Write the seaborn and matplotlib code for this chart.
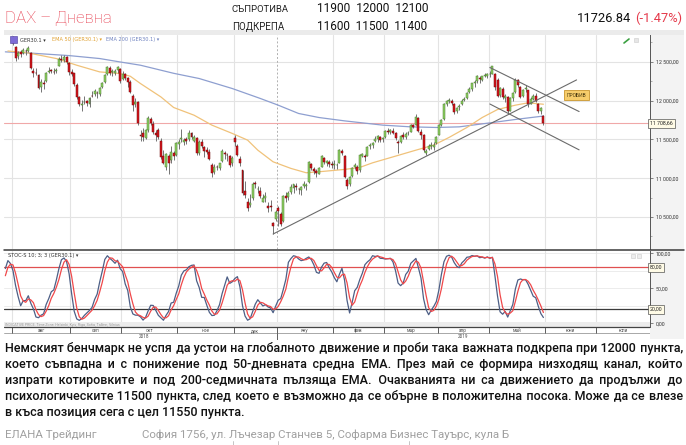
import numpy as np
import pandas as pd
import matplotlib
matplotlib.use("Agg")
import matplotlib.pyplot as plt
from matplotlib.patches import Rectangle
import seaborn as sns

W, H = 686, 445

# ---------------- data ----------------
closed_days = ["2018-10-03", "2018-12-24", "2018-12-25", "2018-12-26", "2018-12-31",
               "2019-01-01", "2019-04-19", "2019-04-22", "2019-05-01"]
first_day, last_day, first_shown = "2018-07-05", "2019-05-31", "2018-08-01"

open_ = [
    12350, 12440, 12560, 12620, 12500, 12440, 12510, 12560, 12530, 12600, 12740, 12690, 12530, 12620, 12680, 12640, 12800, 12840, 12780,
    12806, 12690, 12570, 12620, 12610, 12640, 12640, 12610, 12380, 12360, 12330, 12170, 12230, 12250, 12370, 12390, 12370, 12380, 12450, 12540, 12520, 12560, 12480,
    12370, 12350, 12200, 12040, 11940, 11980, 11990, 11960, 12060, 12080, 12100, 12090, 12170, 12240, 12340, 12420, 12370, 12360, 12390, 12410,
    12280, 12340, 12290, 12240, 12060, 11960, 11980, 11560, 11580, 11520, 11620, 11760, 11700, 11580, 11620, 11480, 11290, 11150, 11280, 11230, 11320, 11300,
    11440, 11500, 11470, 11500, 11500, 11580, 11480, 11520, 11330, 11470, 11400, 11360, 11340, 11170, 11080, 11140, 11130, 11220, 11330, 11300, 11290, 11190,
    11520, 11420, 11250, 11100, 10830, 10700, 10660, 10740, 10940, 10860, 10830, 10700, 10750, 10640, 10640, 10430, 10480,
    10620, 10540, 10450, 10770, 10760, 10820, 10870, 10900, 10860, 10850, 10900, 10900, 10950, 11180, 11120, 11090, 11060, 11150, 11260, 11200, 11210, 11180,
    11170, 11170, 11200, 11350, 11290, 10980, 10920, 11030, 11140, 11150, 11100, 11290, 11290, 11290, 11410, 11430, 11480, 11500, 11530, 11500,
    11530, 11610, 11590, 11610, 11580, 11460, 11460, 11550, 11530, 11580, 11600, 11680, 11680, 11780, 11590, 11560, 11330, 11380, 11420, 11400, 11450,
    11560, 11690, 11760, 11950, 11990, 12000, 11950, 11870, 11910, 11950, 12010, 12030, 12110, 12150, 12230, 12250, 12290, 12270, 12320, 12310,
    12340, 12345, 12340, 12270, 12070, 12150, 12030, 12050, 11870, 12030, 12110, 12260, 12170, 12060, 12150, 12130, 11960, 12020, 12060, 11960, 11860, 11800,
]
high = [
    12480, 12520, 12630, 12660, 12520, 12510, 12560, 12600, 12580, 12780, 12760, 12710, 12580, 12720, 12700, 12830, 12880, 12850, 12830,
    12834, 12700, 12640, 12650, 12680, 12660, 12700, 12620, 12420, 12420, 12340, 12280, 12260, 12370, 12430, 12410, 12420, 12420, 12560, 12580, 12580, 12570, 12500,
    12400, 12360, 12220, 12060, 12010, 12060, 12010, 12050, 12120, 12150, 12120, 12170, 12240, 12340, 12440, 12440, 12400, 12410, 12450, 12420,
    12380, 12360, 12300, 12260, 12080, 12030, 11990, 11620, 11650, 11630, 11800, 11790, 11730, 11620, 11650, 11520, 11360, 11320, 11310, 11420, 11350, 11460,
    11500, 11630, 11520, 11530, 11620, 11600, 11560, 11530, 11490, 11510, 11420, 11400, 11380, 11190, 11180, 11170, 11200, 11370, 11350, 11320, 11300, 11290,
    11550, 11440, 11290, 11110, 10960, 10740, 10800, 10950, 10970, 10900, 10890, 10800, 10820, 10690, 10720, 10440, 10590,
    10640, 10570, 10780, 10820, 10830, 10920, 10930, 10940, 10880, 10900, 10960, 10940, 11220, 11200, 11140, 11120, 11140, 11300, 11270, 11240, 11240, 11220,
    11240, 11200, 11380, 11380, 11300, 11000, 11030, 11140, 11190, 11170, 11310, 11330, 11310, 11420, 11450, 11470, 11540, 11550, 11540, 11530,
    11620, 11640, 11630, 11640, 11600, 11490, 11560, 11600, 11590, 11610, 11700, 11700, 11820, 11790, 11630, 11570, 11370, 11440, 11470, 11460, 11540,
    11700, 11760, 11970, 12010, 12030, 12020, 11970, 11920, 11960, 12020, 12050, 12110, 12170, 12230, 12260, 12330, 12310, 12320, 12360, 12360,
    12380, 12450, 12350, 12290, 12180, 12170, 12080, 12060, 12040, 12110, 12290, 12280, 12190, 12150, 12200, 12140, 12050, 12080, 12100, 11970, 11920, 11810,
]
low = [
    12340, 12400, 12540, 12580, 12400, 12410, 12480, 12500, 12480, 12590, 12650, 12540, 12480, 12600, 12560, 12630, 12780, 12760, 12740,
    12720, 12505, 12530, 12560, 12600, 12590, 12620, 12400, 12300, 12330, 12150, 12110, 12150, 12240, 12360, 12350, 12340, 12360, 12440, 12500, 12490, 12470, 12330,
    12320, 12190, 12020, 11930, 11865, 11950, 11930, 11910, 12040, 12060, 12030, 12060, 12160, 12230, 12330, 12330, 12320, 12330, 12350, 12230,
    12260, 12260, 12180, 12100, 11870, 11920, 11690, 11480, 11480, 11500, 11600, 11680, 11570, 11480, 11500, 11250, 11180, 11110, 11050, 11200, 11230, 11290,
    11380, 11470, 11430, 11440, 11480, 11500, 11460, 11300, 11300, 11390, 11270, 11310, 11230, 11010, 11060, 11110, 11100, 11210, 11250, 11220, 11150, 11160,
    11420, 11280, 11160, 10780, 10750, 10580, 10630, 10720, 10880, 10810, 10740, 10690, 10700, 10560, 10580, 10279, 10450,
    10390, 10380, 10440, 10700, 10720, 10800, 10810, 10850, 10800, 10790, 10870, 10850, 10940, 11110, 11060, 11020, 11050, 11140, 11180, 11160, 11150, 11130,
    11120, 11120, 11190, 11300, 11000, 10860, 10900, 11020, 11120, 11050, 11080, 11270, 11220, 11280, 11380, 11390, 11470, 11460, 11460, 11470,
    11520, 11570, 11570, 11570, 11490, 11330, 11450, 11510, 11500, 11550, 11590, 11640, 11680, 11590, 11500, 11340, 11300, 11360, 11380, 11360, 11440,
    11550, 11670, 11750, 11930, 11970, 11940, 11830, 11840, 11880, 11940, 11990, 12020, 12100, 12120, 12180, 12230, 12230, 12250, 12300, 12290,
    12300, 12340, 12140, 12040, 12050, 12020, 11980, 11830, 11860, 12000, 12100, 12180, 12030, 12050, 12110, 11920, 11950, 12010, 11980, 11840, 11830, 11680,
]
close = [
    12465, 12497, 12610, 12609, 12417, 12492, 12541, 12540, 12561, 12765, 12686, 12561, 12548, 12690, 12579, 12809, 12860, 12799, 12806,
    12737, 12546, 12616, 12598, 12648, 12634, 12676, 12424, 12358, 12358, 12162, 12237, 12210, 12358, 12384, 12385, 12366, 12394, 12538, 12527, 12562, 12494, 12364,
    12346, 12210, 12040, 11955, 11960, 11986, 11970, 12032, 12055, 12124, 12096, 12157, 12219, 12326, 12430, 12350, 12374, 12385, 12435, 12247,
    12346, 12287, 12244, 12111, 11947, 11977, 11712, 11539, 11524, 11614, 11777, 11715, 11589, 11553, 11524, 11274, 11191, 11307, 11201, 11336, 11287, 11447,
    11468, 11519, 11494, 11484, 11579, 11527, 11529, 11325, 11472, 11412, 11353, 11341, 11244, 11066, 11139, 11138, 11192, 11354, 11309, 11298, 11170, 11257,
    11465, 11300, 11200, 10811, 10788, 10622, 10680, 10931, 10924, 10865, 10772, 10740, 10766, 10611, 10634, 10382, 10559,
    10580, 10416, 10767, 10747, 10804, 10893, 10921, 10888, 10856, 10892, 10931, 10919, 11205, 11136, 11090, 11071, 11130, 11282, 11210, 11218, 11181, 11173,
    11181, 11176, 11368, 11325, 11022, 10906, 11014, 11126, 11167, 11089, 11299, 11309, 11278, 11401, 11423, 11457, 11505, 11540, 11487, 11515,
    11602, 11593, 11620, 11588, 11518, 11458, 11543, 11524, 11572, 11587, 11686, 11657, 11788, 11603, 11550, 11364, 11346, 11419, 11428, 11429, 11526,
    11682, 11754, 11954, 11988, 12010, 11963, 11850, 11905, 11935, 11999, 12020, 12101, 12153, 12222, 12236, 12313, 12282, 12315, 12328, 12344,
    12345, 12440, 12170, 12060, 12160, 12040, 12060, 11860, 12030, 12100, 12270, 12200, 12050, 12140, 12160, 11960, 12020, 12060, 12000, 11860, 11900, 11705,
]

ema50_dates = ["2018-07-30", "2018-08-09", "2018-08-24", "2018-09-05", "2018-09-18", "2018-09-28", "2018-10-05",
               "2018-10-11", "2018-10-23", "2018-10-30", "2018-11-09", "2018-11-20", "2018-11-30", "2018-12-10",
               "2018-12-14", "2018-12-27", "2019-01-09", "2019-01-17", "2019-01-24", "2019-02-07", "2019-02-15",
               "2019-02-22", "2019-03-07", "2019-03-19", "2019-03-28", "2019-04-05", "2019-04-16", "2019-04-26",
               "2019-05-07", "2019-05-16", "2019-05-23", "2019-05-31"]
ema50_vals = [12637, 12612, 12540, 12454, 12368, 12347, 12312, 12218, 12046, 11910, 11811, 11683, 11576, 11490,
              11361, 11211, 11126, 11070, 11083, 11113, 11139, 11198, 11284, 11361, 11426, 11525, 11653, 11781,
              11884, 11940, 11970, 11952]
ema200_dates = ["2018-07-27", "2018-08-09", "2018-08-21", "2018-08-31", "2018-09-18", "2018-09-28", "2018-10-11",
                "2018-10-22", "2018-10-30", "2018-11-13", "2018-11-30", "2018-12-17", "2019-01-02", "2019-01-14",
                "2019-01-24", "2019-02-07", "2019-02-28", "2019-03-15", "2019-03-29", "2019-04-11", "2019-05-02",
                "2019-05-16", "2019-05-31"]
ema200_vals = [12626, 12612, 12595, 12578, 12540, 12496, 12454, 12398, 12350, 12283, 12154, 12026, 11940, 11833,
               11781, 11738, 11683, 11661, 11653, 11661, 11712, 11756, 11800]

trend_up = (["2018-12-27", "2019-06-19"], [10282, 12265])
channel_top = (["2019-05-02", "2019-06-20"], [12425, 11858])
channel_bottom = (["2019-05-02", "2019-06-20"], [11955, 11365])
breakout_label = ("2019-06-19", 12068, "ПРОБИВ")

month_labels = ["авг", "сеп", "окт", "ное", "дек", "яну", "фев", "мар", "апр", "май", "юни", "юли"]
month_starts = ["2018-08-01", "2018-09-01", "2018-10-01", "2018-11-01", "2018-12-01", "2019-01-01",
                "2019-02-01", "2019-03-01", "2019-04-01", "2019-05-01", "2019-06-01", "2019-07-01"]
year_labels = ["2018", "2019"]
price_ticks = [10500, 11000, 11500, 12000, 12500]
stoch_ticks = [0, 50, 100]
stoch_minor = [25, 75]
stoch_levels = [80, 20]
last_price_line = 11705
last_price_text = "11 708,66"

title = "DAX – Дневна"
resistance = [11900, 12000, 12100]
support = [11600, 11500, 11400]
last_close = "11726.84"
change = "(-1.47%)"
paragraph = [
    "Немският бенчмарк не успя да устои на глобалното движение и проби така важната подкрепа при 12000 пункта,",
    "което съвпадна и с понижение под 50-дневната средна ЕМА. През май се формира низходящ канал, който",
    "изпрати котировките и под 200-седмичната пълзяща ЕМА. Очакванията ни са движението да продължи до",
    "психологическите 11500 пункта, след което е възможно да се обърне в положителна посока. Може да се влезе",
    "в къса позиция сега с цел 11550 пункта.",
]
footer_left = "ЕЛАНА Трейдинг"
footer_right = "София 1756, ул. Лъчезар Станчев 5, Софарма Бизнес Тауърс, кула Б"

# ---------------- frame ----------------
trade_days = pd.bdate_range(first_day, last_day).difference(pd.to_datetime(closed_days))
assert len(trade_days) == len(open_) == len(high) == len(low) == len(close)
ext_days = pd.bdate_range(first_day, "2019-08-30").difference(pd.to_datetime(closed_days))
n_warm = int((ext_days < pd.Timestamp(first_shown)).sum())
posmap = pd.Series(np.arange(len(ext_days)) - n_warm, index=ext_days)


def pos_of(d):
    d = pd.Timestamp(d)
    i = ext_days.searchsorted(d)
    return float(posmap.iloc[i])


df = pd.DataFrame({"date": trade_days, "open": open_, "high": high, "low": low, "close": close})
df["pos"] = posmap.loc[trade_days].values
hh = df["high"].rolling(10).max()
ll = df["low"].rolling(10).min()
fast_k = 100 * (df["close"] - ll) / (hh - ll)
df["k"] = fast_k.rolling(3).mean()
df["d"] = df["k"].rolling(3).mean()

sns.set_theme(style="white")
plt.rcParams["font.family"] = ["Roboto", "DejaVu Sans"]
plt.rcParams["axes.linewidth"] = 0.8

fig = plt.figure(figsize=(W / 100, H / 100), dpi=100)


def rect(x0, y0, x1, y1):
    return [x0 / W, 1 - y1 / H, (x1 - x0) / W, (y1 - y0) / H]


bg = fig.add_axes([0, 0, 1, 1], zorder=0)
bg.set_xlim(0, W); bg.set_ylim(H, 0); bg.axis("off")
bg.add_patch(Rectangle((4, 30), 680, 5, color="#ebebeb", lw=0))
bg.add_patch(Rectangle((650, 35), 34, 304, color="#f3f3f3", lw=0))

XL = (-3.53, 249.8)
grid_c = "#e3e3e3"
month_pos = [pos_of(m) - 0.5 for m in month_starts]

# ---------------- main price panel ----------------
ax = fig.add_axes(rect(4, 35, 650, 249), zorder=2)
ax.set_facecolor("white")
ax.set_xlim(*XL)
ax.set_ylim(10089, 12843)
for p in price_ticks:
    ax.axhline(p, color=grid_c, lw=0.8, zorder=0)
for i, m in enumerate(month_pos):
    if month_labels[i] == "яну":
        ax.axvline(m, color="#b0b0b0", lw=0.7, ls=(0, (2, 2)), zorder=0)
    else:
        ax.axvline(m, color=grid_c, lw=0.8, zorder=0)
ax.axhline(last_price_line, color="#f0a8a8", lw=0.8, zorder=1)

vis = df[df["pos"] >= 0]
up = vis["close"] >= vis["open"]
ax.vlines(vis["pos"], vis["low"], vis["high"], color="#6a6a6a", lw=0.65, zorder=3)
ax.bar(vis["pos"][up], (vis["close"] - vis["open"])[up], bottom=vis["open"][up], width=0.78,
       color="#8fd063", edgecolor="#4a7a30", linewidth=0.35, zorder=4)
ax.bar(vis["pos"][~up], (vis["close"] - vis["open"])[~up], bottom=vis["open"][~up], width=0.78,
       color="#d8141c", edgecolor="#700808", linewidth=0.35, zorder=4)

sns.lineplot(x=[pos_of(d) for d in ema200_dates], y=ema200_vals, ax=ax, color="#8e9fd0", lw=0.9, zorder=2)
sns.lineplot(x=[pos_of(d) for d in ema50_dates], y=ema50_vals, ax=ax, color="#f0c27a", lw=0.9, zorder=2)

for tl in (trend_up, channel_top, channel_bottom):
    ax.plot([pos_of(d) for d in tl[0]], tl[1], color="#6b6b6b", lw=0.8, zorder=5)
ax.text(pos_of(breakout_label[0]), breakout_label[1], breakout_label[2], fontsize=3.6, ha="center", va="center",
        color="#4a3a10", zorder=6,
        bbox=dict(boxstyle="square,pad=0.55", fc="#f7cd6b", ec="#c9962e", lw=0.6))

ax.yaxis.tick_right()
ax.set_yticks(price_ticks)
ax.set_yticklabels([f"{p:,.2f}".replace(",", " ").replace(".", ",") for p in price_ticks], fontsize=3.8, color="#333333")
ax.set_yticks(np.arange(10250, 12850, 250), minor=True)
ax.tick_params(axis="y", which="major", length=2.5, width=0.5, pad=1.5, color="#555555", right=True, left=False)
ax.tick_params(axis="y", which="minor", length=1.5, width=0.4, color="#777777", right=True, left=False)
ax.set_xticks([])
for s in ("left", "top", "bottom"):
    ax.spines[s].set_visible(False)
ax.spines["right"].set_color("#555555")
ax.spines["right"].set_linewidth(0.7)
ax.set_xlabel(""); ax.set_ylabel("")
ax.text(1.0, last_price_line, last_price_text, transform=ax.get_yaxis_transform(), fontsize=3.8, va="center",
        ha="left", color="#222222", zorder=7,
        bbox=dict(boxstyle="square,pad=0.35", fc="#fffbe6", ec="#555555", lw=0.5), clip_on=False)

# ---------------- stochastic panel ----------------
sx = fig.add_axes(rect(4, 251, 650, 327), zorder=2)
sx.set_facecolor("white")
sx.set_xlim(*XL)
sx.set_ylim(-5.3, 103.3)
for v in (25, 50, 75, 100):
    sx.axhline(v, color="#ececec", lw=0.7, zorder=0)
for m in month_pos:
    sx.axvline(m, color=grid_c, lw=0.8, zorder=0)
sx.axhline(stoch_levels[0], color="#e05050", lw=0.9, zorder=1)
sx.axhline(stoch_levels[1], color="#3a3a3a", lw=0.9, zorder=1)
st = df[df["pos"] >= -3]
sns.lineplot(x=st["pos"], y=st["k"], ax=sx, color="#4d5f86", lw=0.9, zorder=3)
sns.lineplot(x=st["pos"], y=st["d"], ax=sx, color="#f0484a", lw=0.9, zorder=3)
sx.yaxis.tick_right()
sx.set_yticks(stoch_ticks)
sx.set_yticklabels([f"{v:.2f}".replace(".", ",") for v in stoch_ticks], fontsize=3.8, color="#333333")
sx.set_yticks(stoch_minor, minor=True)
sx.tick_params(axis="y", which="both", length=2.5, width=0.5, pad=1.5, color="#555555", right=True, left=False)
sx.set_xticks([])
for s in ("left", "top", "bottom"):
    sx.spines[s].set_visible(False)
sx.spines["right"].set_color("#555555")
sx.spines["right"].set_linewidth(0.7)
sx.set_xlabel(""); sx.set_ylabel("")
for v in stoch_levels:
    sx.text(1.0, v, f"{v:.2f}".replace(".", ","), transform=sx.get_yaxis_transform(), fontsize=3.8, va="center",
            ha="left", color="#222222", zorder=7,
            bbox=dict(boxstyle="square,pad=0.35", fc="#fffbe6", ec="#555555", lw=0.5), clip_on=False)

# ---------------- time strip ----------------
tx = fig.add_axes(rect(4, 322, 650, 340), zorder=3)
tx.set_xlim(*XL)
tx.set_ylim(18, 0)
tx.axis("off")
tx.add_patch(Rectangle((XL[0], 0), XL[1] - XL[0], 5, color="#ececec", lw=0))
tx.axhline(5.3, color="#444444", lw=0.9)
tx.axhline(11.3, color="#9a9a9a", lw=0.6)
tx.axhline(17.5, color="#9a9a9a", lw=0.6)
tx.text(XL[0] + 0.5, 2.6, "INDICATIVE PRICE. Time Zone: Helsinki, Kyiv, Riga, Sofia, Tallinn, Vilnius",
        fontsize=2.6, color="#9a9a9a", va="center", ha="left")
edges = month_pos + [XL[1]]
for i, lab in enumerate(month_labels):
    tx.vlines(month_pos[i], 5.3, 11.3, color="#444444", lw=0.6)
    tx.text((edges[i] + edges[i + 1]) / 2, 8.6, lab, fontsize=3.4, ha="center", va="center", color="#555555")
jan = month_pos[month_labels.index("яну")]
tx.vlines(jan, 11.3, 18, color="#444444", lw=0.6)
tx.text((month_pos[0] + jan) / 2, 14.5, year_labels[0], fontsize=3.4, ha="center", va="center", color="#555555")
tx.text((jan + XL[1]) / 2, 14.5, year_labels[1], fontsize=3.4, ha="center", va="center", color="#555555")

# ---------------- overlay texts ----------------
ov = fig.add_axes([0, 0, 1, 1], zorder=10)
ov.set_xlim(0, W); ov.set_ylim(H, 0); ov.axis("off")
ov.patch.set_alpha(0)
ov.plot([4, 684], [250, 250], color="#3a3a3a", lw=1.1)

ov.add_patch(Rectangle((10, 36), 7, 7, fc="#7e6bd6", ec="#4a3a9a", lw=0.4))
ov.text(20, 40, "GER30.1 ▾", fontsize=3.6, color="#333333", va="center", family=["DejaVu Sans"])
ov.text(52, 40, "EMA 50 (GER30.1) ▾", fontsize=3.6, color="#e0a030", va="center", family=["DejaVu Sans"])
ov.text(106, 40, "EMA 200 (GER30.1) ▾", fontsize=3.6, color="#6f82c0", va="center", family=["DejaVu Sans"])
ov.plot([624, 629], [43, 39], color="#3aa040", lw=1.2)
ov.add_patch(Rectangle((634, 38), 4, 4, fc="#e6e6e6", ec="#cccccc", lw=0.4))
ov.text(8, 256, "STOC-S 10; 3; 3 (GER30.1) ▾", fontsize=3.6, color="#333333", va="center", family=["DejaVu Sans"])
ov.add_patch(Rectangle((631, 254), 3.5, 3.5, fc="#eeeeee", ec="#cccccc", lw=0.4))
ov.add_patch(Rectangle((637, 254), 3.5, 3.5, fc="#eeeeee", ec="#cccccc", lw=0.4))

renderer = fig.canvas.get_renderer()


def width_of(s, **kw):
    t = ov.text(0, 0, s, **kw)
    w = t.get_window_extent(renderer).width
    t.remove()
    return w


def fit(x, y, s, target_w, size=10, **kw):
    t = ov.text(x, y, s, fontsize=size, va="center", ha="left", **kw)
    w = t.get_window_extent(renderer).width
    t.set_fontsize(size * target_w / w)
    return t


fit(5, 18, title, 107, color="#e5394a", fontweight="light")
fit(232, 9, "СЪПРОТИВА", 57, color="#222222")
fit(232, 27, "ПОДКРЕПА", 52, color="#222222")
fit(317, 9, "  ".join(str(v) for v in resistance), 111, color="#111111")
fit(317, 27, "  ".join(str(v) for v in support), 111, color="#111111")
tc = fit(577, 18, last_close, 54, color="#111111")
ov.text(635, 18, change, fontsize=tc.get_fontsize(), va="center", ha="left", color="#e5394a")

# paragraph (justified with hair spaces, one text per line)
pweight = "medium"
psize = 10 * 670 / width_of(paragraph[0], fontsize=10, fontweight=pweight)
pk = dict(fontsize=psize, fontweight=pweight)
HAIR = "\u200a"
hair_w = width_of("n" + HAIR * 10 + "n", **pk) - width_of("nn", **pk)
hair_w = max(hair_w / 10, 0.3)
line_base = [352.0, 368.0, 384.0, 400.0, 416.0]
x0, x1 = 5, 683
for li, line in enumerate(paragraph):
    words = line.split(" ")
    s = line
    if li < len(paragraph) - 1:
        extra = (x1 - x0) - width_of(line, **pk)
        n_total = max(int(round(extra / hair_w)), 0)
        gaps = len(words) - 1
        parts = [words[0]]
        for g in range(gaps):
            n_here = (n_total * (g + 1)) // gaps - (n_total * g) // gaps
            parts.append(" " + HAIR * n_here + words[g + 1])
        s = "".join(parts)
    ov.text(x0, line_base[li], s, va="baseline", ha="left", color="#111111", **pk)

ov.text(5, 437.5, footer_left, fontsize=psize * 0.92, va="baseline", ha="left", color="#a0a0a0")
ov.text(142, 437.5, footer_right, fontsize=psize * 0.92, va="baseline", ha="left", color="#a0a0a0")
for fxp in (233, 278, 409):
    ov.plot([fxp, fxp], [441, 445], color="#bbbbbb", lw=0.6)

fig.savefig("out.png", dpi=100)
